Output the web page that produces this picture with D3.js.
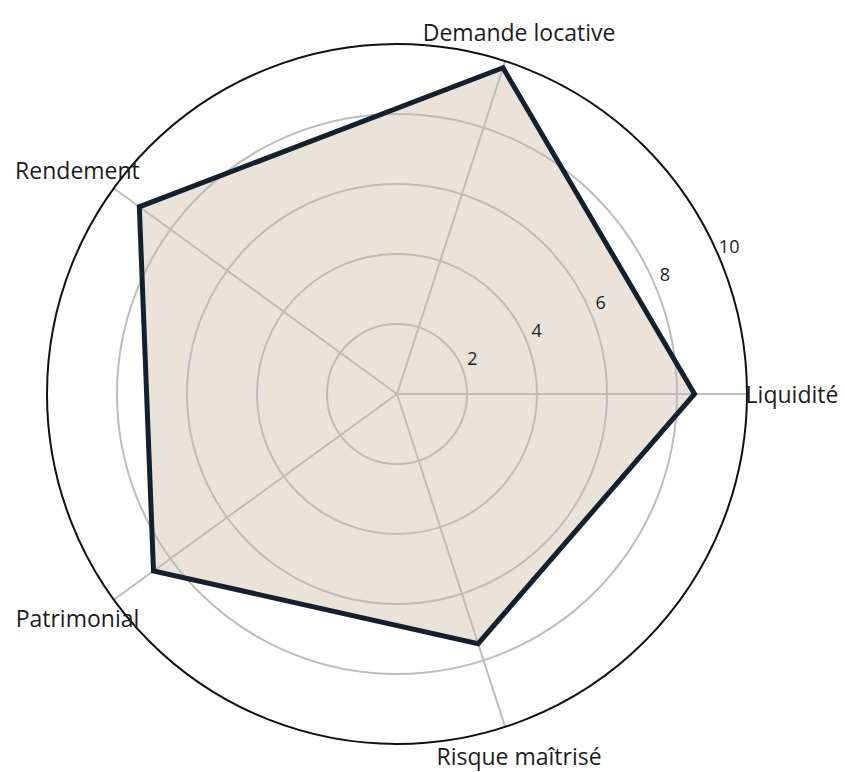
<!DOCTYPE html>
<html>
<head>
<meta charset="utf-8">
<script src="https://cdn.jsdelivr.net/npm/d3@7"></script>
<style>
  body { margin: 0; background: #fff; }
  text { font-family: "Open Sans", "Noto Sans", sans-serif; fill: #1c1c1c; }
</style>
</head>
<body>
<svg id="radar"></svg>
<script>
// axes du radar, sens anti-horaire depuis la droite
var axes = ['Liquidité', 'Demande locative', 'Rendement', 'Patrimonial', 'Risque maîtrisé'];
var scores = [8.5, 9.8, 9.1, 8.6, 7.5];
var ticks = [2, 4, 6, 8, 10];

var width = 845, height = 772;
var cx = 397, cy = 394, R = 350;

var svg = d3.select('#radar').attr('width', width).attr('height', height);
var g = svg.append('g').attr('transform', 'translate(' + cx + ',' + cy + ')');

var r = d3.scaleLinear().domain([0, 10]).range([0, R]);
// angle en radians (0 = droite, sens anti-horaire)
var angle = d3.scalePoint().domain(axes).range([0, 2 * Math.PI * 4 / 5]);

function px(a, rad) { return rad * Math.cos(a); }
function py(a, rad) { return -rad * Math.sin(a); }

// polygone (dessous)
var pts = axes.map(function(d, i) {
    return [px(angle(d), r(scores[i])), py(angle(d), r(scores[i]))];
});
g.append('polygon')
    .attr('points', pts.map(function(p) { return p.join(','); }).join(' '))
    .attr('fill', '#ebe3d9');

// cercles de grille
g.selectAll('circle.grid')
    .data(ticks.slice(0, -1))
    .enter()
    .append('circle')
    .attr('class', 'grid')
    .attr('r', function(d) { return r(d); })
    .attr('fill', 'none')
    .attr('stroke', '#bdbdbd')
    .attr('stroke-width', 2);

// rayons
g.selectAll('line.spoke')
    .data(axes)
    .enter()
    .append('line')
    .attr('x1', 0).attr('y1', 0)
    .attr('x2', function(d) { return px(angle(d), R); })
    .attr('y2', function(d) { return py(angle(d), R); })
    .attr('stroke', '#bdbdbd')
    .attr('stroke-width', 2);

// contour du polygone
g.append('polygon')
    .attr('points', pts.map(function(p) { return p.join(','); }).join(' '))
    .attr('fill', 'none')
    .attr('stroke', '#13202f')
    .attr('stroke-width', 5)
    .attr('stroke-linejoin', 'miter');

// cercle extérieur
g.append('circle')
    .attr('r', r(10))
    .attr('fill', 'none')
    .attr('stroke', '#111')
    .attr('stroke-width', 2);

// étiquettes radiales
var ta = 23.5 * Math.PI / 180;
g.selectAll('text.tick')
    .data(ticks)
    .enter()
    .append('text')
    .attr('x', function(d) { return px(ta, r(d) + 10) + 2; })
    .attr('y', function(d) { return py(ta, r(d) + 10) - 4; })
    .attr('text-anchor', 'middle')
    .attr('dominant-baseline', 'central')
    .style('font-size', '18px')
    .text(function(d) { return d; });

// libellés des axes
g.selectAll('text.axis')
    .data(axes)
    .enter()
    .append('text')
    .attr('x', function(d) { return px(angle(d), R + 45); })
    .attr('y', function(d) { return py(angle(d), R + 31); })
    .attr('text-anchor', 'middle')
    .attr('dominant-baseline', 'central')
    .style('font-size', '23px')
    .text(function(d) { return d; });
</script>
</body>
</html>
